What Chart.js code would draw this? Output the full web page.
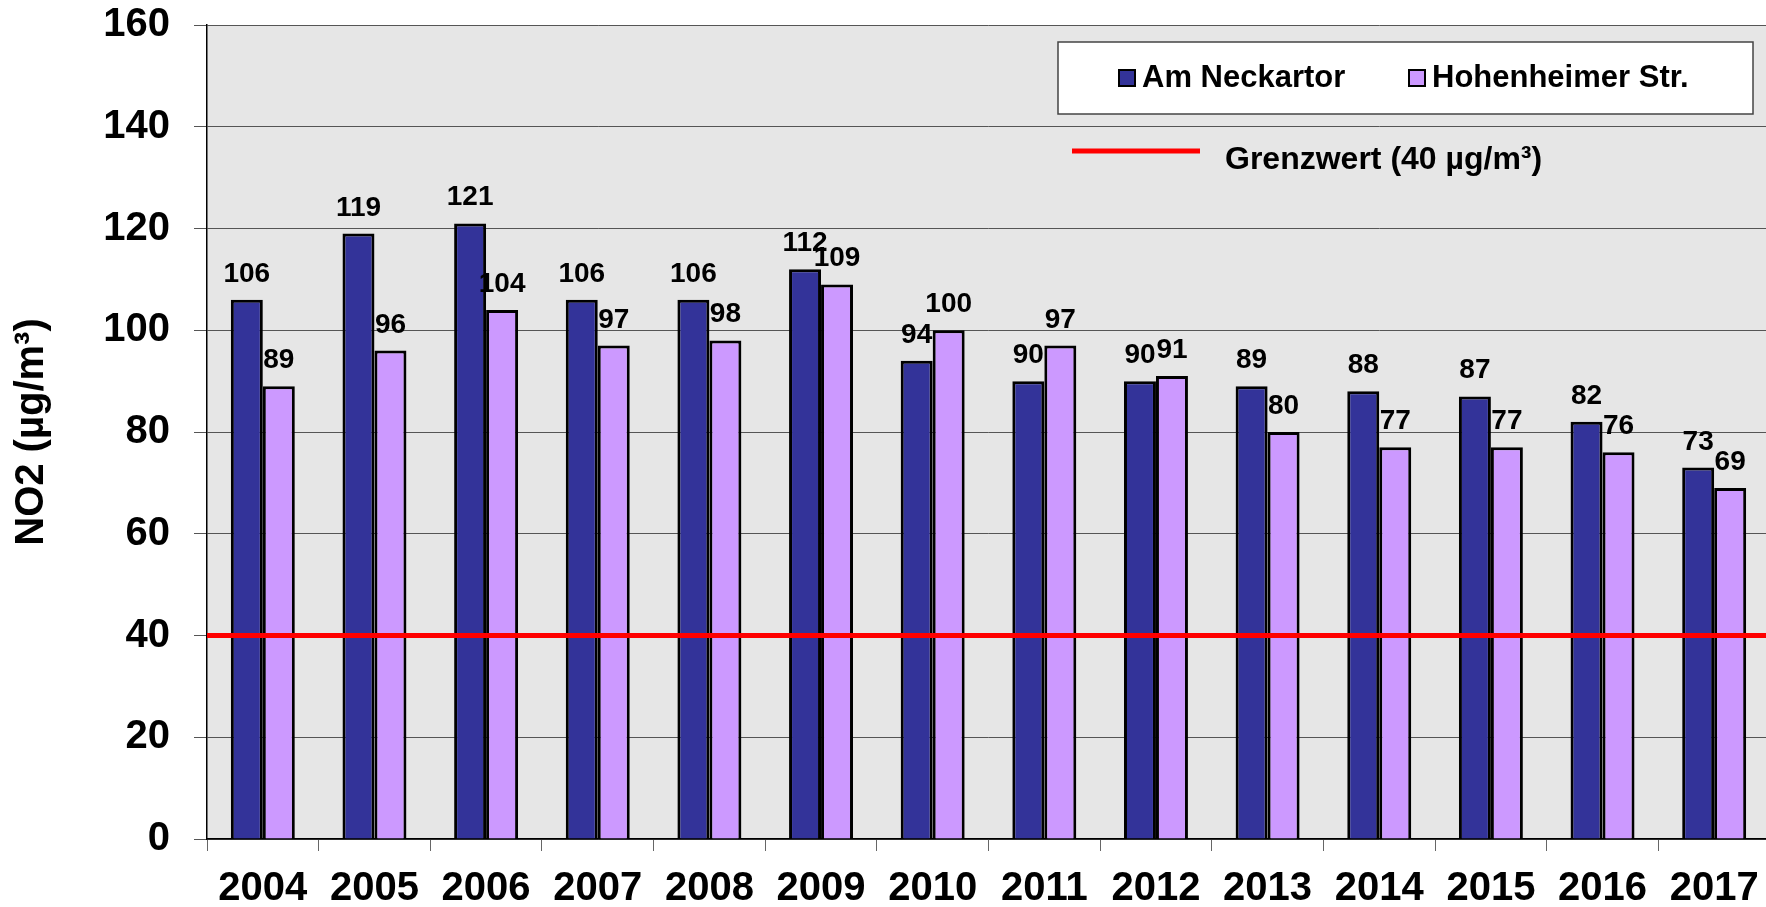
<!DOCTYPE html>
<html lang="de">
<head>
    <meta charset="UTF-8">
    <title>NO2 Jahresmittelwerte Stuttgart</title>
    <script src="https://cdn.jsdelivr.net/npm/chart.js"></script>
    <style>
        html, body { margin: 0; padding: 0; background: #fff; overflow: hidden; }
        #wrap { width: 1770px; height: 907px; }
    </style>
</head>
<body>
    <div id="wrap"><canvas id="myChart" width="1770" height="907"></canvas></div>
    <script>
        // Daten
        const years = ['2004', '2005', '2006', '2007', '2008', '2009', '2010', '2011', '2012', '2013', '2014', '2015', '2016', '2017'];
        const neckartor = [106, 119, 121, 106, 106, 112, 94, 90, 90, 89, 88, 87, 82, 73];
        const hohenheimer = [89, 96, 104, 97, 98, 109, 100, 97, 91, 80, 77, 77, 76, 69];
        const grenzwert = 40;
        const yTicks = [0, 20, 40, 60, 80, 100, 120, 140, 160];

        const FONT = '"Liberation Sans", Arial, sans-serif';
        const DARK = '#333399';
        const LIGHT = '#cc99ff';

        // Hintergrund der Zeichenfläche
        const plotBackground = {
            id: 'plotBackground',
            beforeDraw(chart) {
                const { ctx, chartArea: a } = chart;
                ctx.save();
                ctx.fillStyle = '#e6e6e6';
                ctx.fillRect(a.left, a.top, a.right - a.left, a.bottom - a.top);
                ctx.restore();
            }
        };

        // Grenzwertlinie, Datenbeschriftung und Legende
        const overlay = {
            id: 'overlay',
            afterDatasetsDraw(chart) {
                const { ctx, chartArea: a } = chart;
                const y = chart.scales.y;
                ctx.save();

                // Grenzwert
                const gy = y.getPixelForValue(grenzwert);
                ctx.strokeStyle = '#ff0000';
                ctx.lineWidth = 5;
                ctx.beginPath();
                ctx.moveTo(a.left, gy);
                ctx.lineTo(a.right, gy);
                ctx.stroke();

                // Werte über den Balken
                ctx.fillStyle = '#000';
                ctx.font = 'bold 28px ' + FONT;
                ctx.textAlign = 'center';
                ctx.textBaseline = 'alphabetic';
                chart.data.datasets.forEach((ds, i) => {
                    chart.getDatasetMeta(i).data.forEach((bar, j) => {
                        ctx.fillText(String(ds.data[j]), bar.x, bar.y - 18);
                    });
                });

                // Legende
                ctx.fillStyle = '#fff';
                ctx.fillRect(1058, 42, 695, 72);
                ctx.strokeStyle = '#444';
                ctx.lineWidth = 1.5;
                ctx.strokeRect(1058, 42, 695, 72);

                ctx.font = 'bold 31px ' + FONT;
                ctx.textAlign = 'left';
                const items = [
                    { x: 1119, color: DARK, text: chart.data.datasets[0].label },
                    { x: 1409, color: LIGHT, text: chart.data.datasets[1].label }
                ];
                items.forEach(it => {
                    ctx.fillStyle = it.color;
                    ctx.fillRect(it.x, 70, 16, 16);
                    ctx.strokeStyle = '#000';
                    ctx.lineWidth = 2;
                    ctx.strokeRect(it.x, 70, 16, 16);
                    ctx.fillStyle = '#000';
                    ctx.fillText(it.text, it.x + 23, 87);
                });

                ctx.strokeStyle = '#ff0000';
                ctx.lineWidth = 5;
                ctx.beginPath();
                ctx.moveTo(1072, 151);
                ctx.lineTo(1200, 151);
                ctx.stroke();
                ctx.fillStyle = '#000';
                ctx.font = 'bold 32px ' + FONT;
                ctx.fillText('Grenzwert (40 µg/m³)', 1225, 169);

                ctx.restore();
            }
        };

        const data = {
            labels: years,
            datasets: [{
                label: 'Am Neckartor',
                data: neckartor,
                backgroundColor: DARK,
                borderColor: '#000',
                borderWidth: 3,
                borderSkipped: 'bottom'
            }, {
                label: 'Hohenheimer Str.',
                data: hohenheimer,
                backgroundColor: LIGHT,
                borderColor: '#000',
                borderWidth: 3,
                borderSkipped: 'bottom'
            }]
        };

        const options = {
            responsive: false,
            animation: false,
            layout: { padding: { top: 25, right: 0, bottom: 0, left: 0 } },
            datasets: {
                bar: { categoryPercentage: 0.573, barPercentage: 1 }
            },
            plugins: {
                legend: { display: false },
                tooltip: { enabled: false }
            },
            scales: {
                x: {
                    grid: { drawOnChartArea: false, drawTicks: true, tickLength: 12, color: '#666' },
                    border: { color: '#000', width: 1.5 },
                    ticks: { color: '#000', padding: 14, font: { family: FONT, size: 40, weight: 'bold' } },
                    afterFit(scale) {
                        scale.height = 68;
                        scale.paddingLeft = 0;
                        scale.paddingRight = 0;
                    }
                },
                y: {
                    min: 0,
                    max: 160,
                    afterBuildTicks(scale) { scale.ticks = yTicks.map(v => ({ value: v })); },
                    grid: { color: '#555', lineWidth: 1, tickLength: 13 },
                    border: { color: '#000', width: 1.5 },
                    ticks: { color: '#000', padding: 24, font: { family: FONT, size: 40, weight: 'bold' } },
                    title: {
                        display: true,
                        text: 'NO2 (µg/m³)',
                        color: '#000',
                        padding: { top: 8, bottom: 0 },
                        font: { family: FONT, size: 40, weight: 'bold' }
                    },
                    afterFit(scale) {
                        scale.width = 207;
                        scale.paddingTop = 0;
                        scale.paddingBottom = 0;
                    }
                }
            }
        };

        new Chart(document.getElementById('myChart').getContext('2d'), {
            type: 'bar',
            data: data,
            options: options,
            plugins: [plotBackground, overlay]
        });
    </script>
</body>
</html>
